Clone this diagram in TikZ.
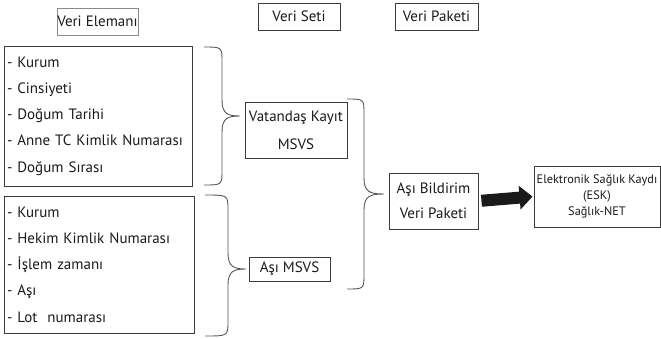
\documentclass[tikz,border=0pt]{standalone}
\usepackage{fontspec}
\setmainfont{PT Sans}
\usetikzlibrary{arrows.meta}
\definecolor{ink}{HTML}{1A1A1A}
\definecolor{frame}{HTML}{3C3C3C}
\definecolor{lightframe}{HTML}{8A8A8A}
\definecolor{bracegray}{HTML}{555555}
\tikzset{
  box/.style={draw=frame, line width=0.9pt, text=ink, inner sep=0pt,
              font=\fontsize{15}{26.3}\selectfont},
  listbox/.style={box, align=left, inner xsep=3pt, anchor=center},
  cbox/.style={box, align=center},
  curly/.style={draw=bracegray, line width=0.9pt},
  blockarrow/.style={draw=ink, line width=12pt,
              -{Triangle[length=13pt,width=23pt]}},
}
% curly brace: start x, top y, bottom y, spine x, tip x, tip y
\newcommand\drawcurly[6]{%
  \draw[curly] (#1,#2) .. controls (#4,#2) .. (#4,#2+15)
    -- (#4,#6-16) .. controls (#4,#6-2) and (#4+6,#6) .. (#5,#6)
    .. controls (#4+6,#6) and (#4,#6+2) .. (#4,#6+16)
    -- (#4,#3-15) .. controls (#4,#3) .. (#1,#3);}
\begin{document}
\begin{tikzpicture}[x=1pt, y=-1pt]
\useasboundingbox (0,0) rectangle (661,338);

% column headers
\node[cbox, draw=lightframe, minimum width=81pt, minimum height=27pt] (hElem) at (97.5,21.5) {Veri Elemanı};
\node[cbox, minimum width=82pt, minimum height=27pt] (hSet) at (299,16.5) {Veri Seti};
\node[cbox, minimum width=83pt, minimum height=27pt] (hPack) at (436.5,16.5) {Veri Paketi};

% data element lists
\node[listbox, text width=182pt, minimum height=140pt] (elems1) at (98,116)
  {- Kurum\\- Cinsiyeti\\- Doğum Tarihi\\- Anne TC Kimlik Numarası\\- Doğum Sırası};
\node[listbox, text width=184pt, minimum height=137pt] (elems2) at (99,264.5)
  {- Kurum\\- Hekim Kimlik Numarası\\- İşlem zamanı\\- Aşı\\- Lot\ \ numarası};

% data sets
\node[cbox, font=\fontsize{15}{28}\selectfont, minimum width=102pt, minimum height=56pt] (vkMsvs) at (296,130)
  {Vatandaş Kayıt\\MSVS};
\node[cbox, minimum width=81pt, minimum height=24pt] (asiMsvs) at (289.5,269) {Aşı MSVS};

% data package
\node[cbox, font=\fontsize{15}{25}\selectfont, minimum width=89pt, minimum height=56pt] (asiPack) at (433.5,201)
  {Aşı Bildirim\\Veri Paketi};

% target record
\node[cbox, font=\fontsize{12.3}{16}\selectfont, minimum width=126pt, minimum height=61pt] (esk) at (597,196.5)
  {Elektronik Sağlık Kaydı\\(ESK)\\Sağlık-NET};

% braces grouping elements into sets and sets into the package
\drawcurly{204}{47}{185}{222}{240}{116}
\drawcurly{205}{195}{336}{228}{246}{269}
\drawcurly{347}{99}{289}{364}{384}{194}

% transfer arrow
\draw[blockarrow, shorten <=3pt, shorten >=1pt] (asiPack.east) -- (esk.west);
\end{tikzpicture}
\end{document}
